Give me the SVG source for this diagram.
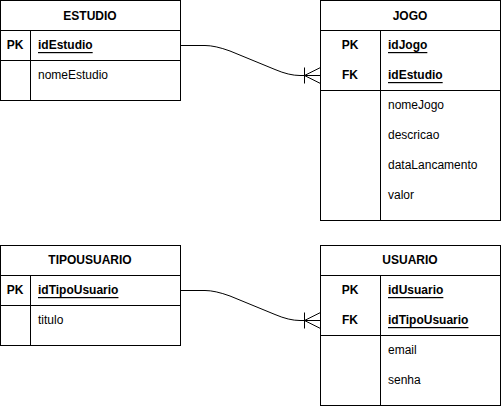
<svg xmlns="http://www.w3.org/2000/svg" width="501" height="406" viewBox="0 0 501 406">
<style>
.box{fill:#fff;stroke:#000;stroke-width:1}
.ln{fill:none;stroke:#000;stroke-width:1}
text{font-family:Helvetica,"Liberation Sans",Arial,sans-serif;font-size:12px;fill:#000;dominant-baseline:central}
.h{font-weight:bold;text-anchor:middle}
.k{font-weight:bold;text-anchor:middle}
.key{font-weight:bold;text-decoration:underline}
</style>
<rect width="501" height="406" fill="#fff"/>
<g id="connectors">
<path class="ln" d="M180.5 45.5 L205 45.5 Q215 45.5 230 51 L275 69.5 Q289 75.5 300 75.5 L320.5 75.5"/>
<path class="ln" d="M304.5 67.5 V83.5 M304.5 75.5 L320.5 67.5 M304.5 75.5 L320.5 83.5"/>
<path class="ln" d="M180.5 290.5 L205 290.5 Q215 290.5 230 296 L275 314.5 Q289 320.5 300 320.5 L320.5 320.5"/>
<path class="ln" d="M304.5 312.5 V328.5 M304.5 320.5 L320.5 312.5 M304.5 320.5 L320.5 328.5"/>
</g>
<g id="ESTUDIO">
<rect class="box" x="0.5" y="0.5" width="180" height="100"/>
<path class="ln" d="M0.5 30.5 H180.5 M0.5 60.5 H180.5 M30.5 30.5 V100.5"/>
<text class="h" x="90" y="16">ESTUDIO</text>
<text class="k" x="15" y="45">PK</text>
<text class="key" x="38" y="45">idEstudio</text>
<text x="38" y="75">nomeEstudio</text>
</g>
<g id="JOGO">
<rect class="box" x="320.5" y="0.5" width="180" height="220"/>
<path class="ln" d="M320.5 30.5 H500.5 M320.5 90.5 H500.5 M380.5 30.5 V220.5"/>
<text class="h" x="410" y="16">JOGO</text>
<text class="k" x="350" y="45">PK</text>
<text class="key" x="388" y="45">idJogo</text>
<text class="k" x="350" y="75">FK</text>
<text class="key" x="388" y="75">idEstudio</text>
<text x="388" y="105">nomeJogo</text>
<text x="388" y="135">descricao</text>
<text x="388" y="165">dataLancamento</text>
<text x="388" y="195">valor</text>
</g>
<g id="TIPOUSUARIO">
<rect class="box" x="0.5" y="245.5" width="180" height="100"/>
<path class="ln" d="M0.5 275.5 H180.5 M0.5 305.5 H180.5 M30.5 275.5 V345.5"/>
<text class="h" x="90" y="260">TIPOUSUARIO</text>
<text class="k" x="15" y="290">PK</text>
<text class="key" x="38" y="290">idTipoUsuario</text>
<text x="38" y="320">titulo</text>
</g>
<g id="USUARIO">
<rect class="box" x="320.5" y="245.5" width="180" height="160"/>
<path class="ln" d="M320.5 275.5 H500.5 M320.5 335.5 H500.5 M380.5 275.5 V405.5"/>
<text class="h" x="410" y="260">USUARIO</text>
<text class="k" x="350" y="290">PK</text>
<text class="key" x="388" y="290">idUsuario</text>
<text class="k" x="350" y="320">FK</text>
<text class="key" x="388" y="320">idTipoUsuario</text>
<text x="388" y="350">email</text>
<text x="388" y="380">senha</text>
</g>
</svg>
